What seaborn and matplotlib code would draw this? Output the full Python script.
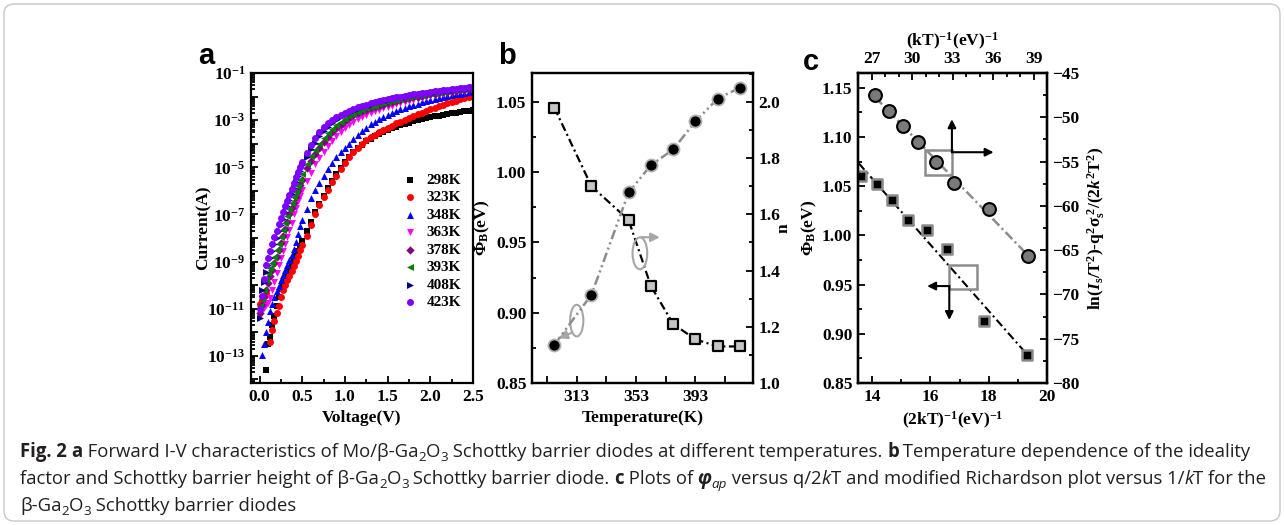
import numpy as np
import pandas as pd
import matplotlib
matplotlib.use("Agg")
import matplotlib.pyplot as plt
import seaborn as sns
from matplotlib import ticker, font_manager
from matplotlib.patches import Ellipse, Rectangle, FancyBboxPatch
from matplotlib.transforms import IdentityTransform

nan = np.nan

# ---------------- Panel a : forward I-V (log10 of current in A) ----------------
voltage_low = [0.000, 0.025, 0.050, 0.075, 0.100, 0.125, 0.150, 0.175, 0.200, 0.225,
               0.250, 0.275, 0.300, 0.325, 0.350, 0.375, 0.400, 0.425, 0.450, 0.475, 0.500]
voltage_high = [0.55, 0.60, 0.65, 0.70, 0.75, 0.80, 0.85, 0.90, 0.95, 1.00,
                1.05, 1.10, 1.15, 1.20, 1.25, 1.30, 1.35, 1.40, 1.45, 1.50,
                1.55, 1.60, 1.65, 1.70, 1.75, 1.80, 1.85, 1.90, 1.95, 2.00,
                2.05, 2.10, 2.15, 2.20, 2.25, 2.30, 2.35, 2.40, 2.45, 2.50]

temperature_labels = ["298K", "323K", "348K", "363K", "378K", "393K", "408K", "423K"]

logI_298K = [nan, nan, nan, -13.6, -12.5, -12.2, -11.7, -11.3, -10.9, -10.5,
             -10.15, -9.95, -9.75, -9.55, -9.35, -9.15, -8.95, -8.75, -8.55, -8.33, -8.12,
             -7.72, -7.30, -6.90, -6.55, -6.20, -5.88, -5.57, -5.29, -5.03, -4.79,
             -4.57, -4.37, -4.19, -4.04, -3.90, -3.78, -3.67, -3.57, -3.49, -3.41,
             -3.34, -3.27, -3.21, -3.15, -3.10, -3.05, -3.00, -2.96, -2.92, -2.88,
             -2.84, -2.81, -2.77, -2.74, -2.71, -2.68, -2.65, -2.62, -2.60, -2.57]
logI_323K = [-10.8, -10.65, -10.45, -10.35, nan, -12.4, -11.9, -11.5, -11.2, -10.9,
             -10.5, -10.2, -10.0, -9.8, -9.6, -9.4, -9.18, -8.97, -8.75, -8.52, -8.30,
             -7.90, -7.45, -7.00, -6.62, -6.26, -5.95, -5.63, -5.35, -5.08, -4.82,
             -4.58, -4.37, -4.18, -4.00, -3.86, -3.73, -3.61, -3.50, -3.41, -3.32,
             -3.23, -3.14, -3.06, -2.98, -2.90, -2.82, -2.75, -2.68, -2.60, -2.53,
             -2.47, -2.41, -2.35, -2.29, -2.23, -2.17, -2.11, -2.06, -2.00, -1.95]
logI_348K = [nan, -12.95, -12.50, -12.00, -11.55, -11.10, -10.80, -10.50, -10.25, -10.05,
             -9.80, -9.57, -9.35, -9.14, -8.93, -8.72, -8.45, -8.15, -7.83, -7.50, -7.25,
             -6.75, -6.32, -5.98, -5.65, -5.35, -5.06, -4.80, -4.56, -4.36, -4.17,
             -4.00, -3.82, -3.64, -3.47, -3.32, -3.18, -3.06, -2.95, -2.86, -2.77,
             -2.68, -2.60, -2.53, -2.47, -2.41, -2.35, -2.30, -2.25, -2.20, -2.15,
             -2.10, -2.05, -2.01, -1.97, -1.94, -1.90, -1.87, -1.84, -1.81, -1.78]
logI_363K = [-11.30, -11.05, -10.95, -10.85, -10.75, -10.55, -10.20, -9.85, -9.50, -9.15,
             -8.85, -8.55, -8.25, -7.95, -7.65, -7.35, -7.00, -6.72, -6.45, -6.20, -5.96,
             -5.60, -5.23, -4.88, -4.60, -4.33, -4.09, -3.87, -3.67, -3.50, -3.34,
             -3.20, -3.07, -2.96, -2.86, -2.77, -2.69, -2.62, -2.55, -2.49, -2.43,
             -2.38, -2.33, -2.28, -2.23, -2.19, -2.14, -2.10, -2.06, -2.02, -1.98,
             -1.95, -1.91, -1.88, -1.85, -1.83, -1.80, -1.78, -1.76, -1.74, -1.72]
logI_378K = [-11.20, -10.85, -10.50, -10.20, -9.90, -9.60, -9.35, -9.08, -8.80, -8.50,
             -8.20, -7.90, -7.60, -7.30, -7.00, -6.74, -6.50, -6.25, -6.00, -5.76, -5.52,
             -5.05, -4.74, -4.45, -4.17, -3.93, -3.71, -3.52, -3.35, -3.19, -3.03,
             -2.90, -2.80, -2.71, -2.63, -2.56, -2.50, -2.44, -2.39, -2.34, -2.29,
             -2.24, -2.20, -2.15, -2.11, -2.07, -2.03, -2.00, -1.97, -1.94, -1.91,
             -1.88, -1.85, -1.82, -1.80, -1.77, -1.75, -1.72, -1.70, -1.68, -1.66]
logI_393K = [-10.90, -10.60, -10.20, -9.80, -9.50, -9.27, -9.07, -8.80, -8.52, -8.24,
             -7.95, -7.65, -7.35, -7.06, -6.79, -6.53, -6.28, -6.03, -5.78, -5.52, -5.28,
             -4.84, -4.52, -4.25, -4.00, -3.77, -3.56, -3.38, -3.21, -3.06, -2.94,
             -2.83, -2.74, -2.65, -2.57, -2.50, -2.44, -2.38, -2.33, -2.28, -2.23,
             -2.18, -2.14, -2.10, -2.06, -2.02, -1.99, -1.95, -1.92, -1.89, -1.86,
             -1.84, -1.81, -1.79, -1.76, -1.74, -1.71, -1.69, -1.67, -1.65, -1.63]
logI_408K = [-11.40, -10.20, -9.85, -9.45, -9.15, -8.83, -8.55, -8.27, -7.99, -7.72,
             -7.45, -7.18, -6.90, -6.64, -6.39, -6.14, -5.89, -5.64, -5.39, -5.15, -4.92,
             -4.55, -4.23, -3.95, -3.69, -3.46, -3.27, -3.12, -2.99, -2.88, -2.78,
             -2.69, -2.60, -2.53, -2.46, -2.40, -2.34, -2.29, -2.24, -2.20, -2.15,
             -2.11, -2.07, -2.03, -2.00, -1.97, -1.94, -1.91, -1.88, -1.86, -1.83,
             -1.81, -1.78, -1.76, -1.73, -1.71, -1.69, -1.67, -1.65, -1.63, -1.61]
logI_423K = [-11.00, -10.45, -9.75, -9.15, -8.85, -8.55, -8.25, -7.97, -7.69, -7.41,
             -7.14, -6.89, -6.65, -6.41, -6.17, -5.93, -5.68, -5.43, -5.20, -4.98, -4.76,
             -4.38, -4.06, -3.77, -3.52, -3.30, -3.12, -2.99, -2.88, -2.78, -2.69,
             -2.61, -2.53, -2.46, -2.40, -2.34, -2.29, -2.24, -2.19, -2.15, -2.11,
             -2.07, -2.03, -2.00, -1.97, -1.94, -1.91, -1.88, -1.85, -1.83, -1.80,
             -1.78, -1.75, -1.73, -1.71, -1.68, -1.66, -1.64, -1.62, -1.60, -1.58]

series_colors = ["#000000", "#FF0000", "#0000FF", "#FF00FF", "#800080", "#008000", "#000080", "#8000FF"]
series_markers = ["s", "o", "^", "v", "D", "<", ">", "o"]

# ---------------- Panel b ----------------
temperature_b = [298, 323, 348, 363, 378, 393, 408, 423]
phi_b = [1.046, 0.990, 0.966, 0.919, 0.892, 0.881, 0.876, 0.876]
n_b = [1.136, 1.314, 1.678, 1.775, 1.831, 1.931, 2.012, 2.051]

# ---------------- Panel c ----------------
inv_2kT = [13.63, 14.17, 14.69, 15.25, 15.89, 16.57, 17.85, 19.33]
phi_ap = [1.060, 1.052, 1.036, 1.016, 1.005, 0.986, 0.913, 0.878]
inv_kT = [27.28, 28.27, 29.33, 30.44, 31.78, 33.13, 35.67, 38.56]
richardson = [-47.45, -49.26, -51.03, -52.84, -55.09, -57.42, -60.36, -65.63]

# ---------------- style ----------------
sns.set_theme(style="ticks")
plt.rcParams.update({
    "font.family": ["Liberation Serif", "DejaVu Serif"],
    "font.weight": "bold",
    "axes.labelweight": "bold",
    "mathtext.fontset": "custom",
    "mathtext.rm": "Liberation Serif:bold",
    "mathtext.it": "Liberation Serif:italic:bold",
    "mathtext.bf": "Liberation Serif:bold",
    "mathtext.default": "rm",
    "axes.linewidth": 1.6,
    "axes.edgecolor": "black",
    "text.color": "black",
    "axes.labelcolor": "black",
    "xtick.color": "black",
    "ytick.color": "black",
    "lines.scale_dashes": False,
})

W, H = 1284.0, 525.0
fig = plt.figure(figsize=(12.84, 5.25), dpi=100)


def add_ax(l, t, r, b):
    return fig.add_axes([l / W, 1 - b / H, (r - l) / W, (b - t) / H])


def style_axis(ax):
    for sp in ax.spines.values():
        sp.set_linewidth(1.6)
    ax.tick_params(which="both", direction="in", width=1.3, labelsize=12.5, pad=4)
    ax.tick_params(which="major", length=5)
    ax.tick_params(which="minor", length=3)


LABEL_FS = 12.5

# ================= Panel a =================
ax_a = add_ax(251, 73, 473, 383)
voltage = np.array(voltage_low + voltage_high)
curves = [logI_298K, logI_323K, logI_348K, logI_363K, logI_378K, logI_393K, logI_408K, logI_423K]
for lab, logI, col, mk in zip(temperature_labels, curves, series_colors, series_markers):
    logI = np.array(logI, dtype=float)
    m = ~np.isnan(logI)
    size = 18 if mk == "D" else 25
    sns.scatterplot(x=voltage[m], y=10 ** logI[m], marker=mk, color=col, s=size,
                    linewidth=0, ax=ax_a, label=lab)
ax_a.set_yscale("log")
ax_a.set_xlim(-0.1, 2.5)
ax_a.set_ylim(10 ** -14.15, 10 ** -1)
ax_a.yaxis.set_major_locator(ticker.LogLocator(base=10, numticks=30))
ax_a.yaxis.set_minor_locator(ticker.LogLocator(base=10, subs=np.arange(2, 10), numticks=30))
ax_a.yaxis.set_major_formatter(ticker.FuncFormatter(
    lambda v, p: (r"$10^{%d}$" % int(round(np.log10(v)))) if int(round(np.log10(v))) % 2 == 1 else ""))
ax_a.yaxis.set_minor_formatter(ticker.NullFormatter())
ax_a.xaxis.set_major_locator(ticker.MultipleLocator(0.5))
ax_a.xaxis.set_minor_locator(ticker.MultipleLocator(0.25))
ax_a.xaxis.set_major_formatter(ticker.FormatStrFormatter("%.1f"))
style_axis(ax_a)
ax_a.tick_params(top=False, right=False)
ax_a.set_xlabel("Voltage(V)", fontsize=LABEL_FS)
ax_a.set_ylabel("Current(A)", fontsize=LABEL_FS)
ax_a.yaxis.set_label_coords(-0.18, 0.5)
leg = ax_a.legend(loc="upper left", bbox_to_anchor=(0.68, 0.677), frameon=False,
                  fontsize=11, handlelength=1.0, handletextpad=0.6, labelspacing=0.25,
                  borderpad=0, borderaxespad=0)

# ================= Panel b =================
ax_b = add_ax(532, 73, 753, 383)
ax_b2 = ax_b.twinx()
sns.lineplot(x=temperature_b, y=phi_b, ax=ax_b, color="black", lw=1.6,
             linestyle=(0, (6, 2.5, 1.5, 2.5)))
sns.scatterplot(x=temperature_b, y=phi_b, ax=ax_b, marker="s", s=60, color="#c4c4c4",
                edgecolor="black", linewidth=1.6, zorder=5)
sns.lineplot(x=temperature_b, y=n_b, ax=ax_b2, color="#8c8c8c", lw=1.8,
             linestyle=(0, (7, 2.5, 1.5, 2.5, 1.5, 2.5)))
sns.scatterplot(x=temperature_b, y=n_b, ax=ax_b2, marker="o", s=75, color="black",
                edgecolor="#b0b0b0", linewidth=1.3, zorder=5)
ax_b.set_xlim(283, 431.7)
ax_b.set_ylim(0.85, 1.0706)
ax_b2.set_ylim(1.0, 2.103)
ax_b.set_xticks([313, 353, 393])
ax_b.set_xticks([293, 333, 373, 413], minor=True)
ax_b.yaxis.set_major_locator(ticker.MultipleLocator(0.05))
ax_b.yaxis.set_minor_locator(ticker.MultipleLocator(0.025))
ax_b.yaxis.set_major_formatter(ticker.FormatStrFormatter("%.2f"))
ax_b2.yaxis.set_major_locator(ticker.MultipleLocator(0.2))
ax_b2.yaxis.set_minor_locator(ticker.MultipleLocator(0.1))
ax_b2.yaxis.set_major_formatter(ticker.FormatStrFormatter("%.1f"))
style_axis(ax_b)
style_axis(ax_b2)
ax_b.tick_params(axis="x", which="minor", length=5)
ax_b.tick_params(top=False, right=False, which="both")
ax_b2.tick_params(top=False, left=False, which="both")
ax_b.set_xlabel("Temperature(K)", fontsize=LABEL_FS)
ax_b.set_ylabel(r"$\Phi_\mathrm{B}$(eV)", fontsize=LABEL_FS)
ax_b.yaxis.set_label_coords(-0.18, 0.5)
ax_b2.set_ylabel("n", fontsize=LABEL_FS)
ax_b2.yaxis.set_label_coords(1.10, 0.5)
GRAY = "#a6a6a6"
ax_b.add_patch(Ellipse((313.1, 0.8944), 8.9, 0.0225, fill=False, ec=GRAY, lw=1.5, zorder=6))
ax_b.add_patch(Ellipse((355.6, 0.9423), 9.9, 0.0227, fill=False, ec=GRAY, lw=1.5, zorder=6))
arrow_gray = dict(arrowstyle="-|>", color=GRAY, lw=1.6, mutation_scale=13, shrinkA=0, shrinkB=0)
ax_b.annotate("", xy=(300.8, 0.8818), xytext=(310.0, 0.8858), arrowprops=arrow_gray, zorder=6)
ax_b.annotate("", xy=(369.0, 0.9537), xytext=(356.5, 0.9537), arrowprops=arrow_gray, zorder=6)

# ================= Panel c =================
ax_c = add_ax(858, 73, 1047, 383)
ax_c2 = ax_c.twinx()
ax_c3 = ax_c2.twiny()
fit_sq = np.polyfit(inv_2kT, phi_ap, 1)
xs_sq = np.array([13.55, max(inv_2kT)])
sns.lineplot(x=xs_sq, y=np.polyval(fit_sq, xs_sq), ax=ax_c, color="black", lw=1.5,
             linestyle=(0, (6, 2.5, 1.5, 2.5)))
sns.scatterplot(x=inv_2kT, y=phi_ap, ax=ax_c, marker="s", s=45, color="black",
                edgecolor="#8a8a8a", linewidth=1.8, zorder=5)
fit_ci = np.polyfit(inv_kT, richardson, 1)
xs_ci = np.array([min(inv_kT), max(inv_kT)])
sns.lineplot(x=xs_ci, y=np.polyval(fit_ci, xs_ci), ax=ax_c3, color="#8c8c8c", lw=1.8,
             linestyle=(0, (7, 2.5, 1.5, 2.5)))
sns.scatterplot(x=inv_kT, y=richardson, ax=ax_c3, marker="o", s=85, color="#7a7a7a",
                edgecolor="black", linewidth=1.5, zorder=5)
ax_c.set_xlim(13.52, 20)
ax_c.set_ylim(0.85, 1.165)
ax_c2.set_ylim(-80, -45)
ax_c3.set_xlim(26, 40)
ax_c.xaxis.set_major_locator(ticker.MultipleLocator(2))
ax_c.xaxis.set_minor_locator(ticker.MultipleLocator(1))
ax_c.yaxis.set_major_locator(ticker.MultipleLocator(0.05))
ax_c.yaxis.set_minor_locator(ticker.MultipleLocator(0.025))
ax_c.yaxis.set_major_formatter(ticker.FormatStrFormatter("%.2f"))
ax_c2.yaxis.set_major_locator(ticker.MultipleLocator(5))
ax_c2.yaxis.set_minor_locator(ticker.MultipleLocator(2.5))
ax_c3.xaxis.set_major_locator(ticker.FixedLocator([27, 30, 33, 36, 39]))
ax_c3.xaxis.set_minor_locator(ticker.MultipleLocator(1))
for a in (ax_c, ax_c2, ax_c3):
    style_axis(a)
ax_c.tick_params(top=False, right=False, which="both")
ax_c2.tick_params(top=False, left=False, bottom=False, which="both")
ax_c3.tick_params(bottom=False, which="both")
ax_c.set_xlabel(r"(2kT)$^{-1}$(eV)$^{-1}$", fontsize=LABEL_FS)
ax_c.set_ylabel(r"$\Phi_\mathrm{B}$(eV)", fontsize=LABEL_FS)
ax_c.yaxis.set_label_coords(-0.205, 0.5)
ax_c3.set_xlabel(r"(kT)$^{-1}$(eV)$^{-1}$", fontsize=LABEL_FS)
ax_c2.set_ylabel(r"ln($\mathit{I}_{s}$/T$^{2}$)-q$^{2}\sigma_{s}^{\ 2}$/(2$\mathit{k}^{2}$T$^{2}$)",
                 fontsize=LABEL_FS)
ax_c2.yaxis.set_label_coords(1.20, 0.5)
BOXG = "#8c8c8c"
ax_c.add_patch(Rectangle((15.80, 1.0618), 0.94, 0.0246, fill=False, ec=BOXG, lw=1.8, zorder=6))
ax_c.add_patch(Rectangle((16.65, 0.9460), 0.95, 0.0240, fill=False, ec=BOXG, lw=1.8, zorder=6))
arrow_k = dict(arrowstyle="-|>", color="black", lw=1.5, mutation_scale=12, shrinkA=0, shrinkB=0)
ax_c.annotate("", xy=(16.74, 1.118), xytext=(16.74, 1.0845), arrowprops=arrow_k, zorder=7)
ax_c.annotate("", xy=(18.17, 1.0845), xytext=(16.74, 1.0845), arrowprops=arrow_k, zorder=7)
ax_c.annotate("", xy=(15.89, 0.9485), xytext=(16.65, 0.9485), arrowprops=arrow_k, zorder=7)
ax_c.annotate("", xy=(16.65, 0.914), xytext=(16.65, 0.9485), arrowprops=arrow_k, zorder=7)

# ================= panel letters =================
for letter, (px, py) in zip("abc", [(206, 56), (507, 56), (811, 62)]):
    fig.text(px / W, 1 - py / H, letter, fontsize=21, fontweight="bold",
             family=["Liberation Sans", "DejaVu Sans"], ha="center", va="center")

# ================= frame =================
fig.add_artist(FancyBboxPatch((4, 4), 1276, 517, boxstyle="round,pad=0,rounding_size=10",
                              transform=IdentityTransform(), fill=False, ec="#c8c8c8", lw=1.0))

# ================= caption =================
def find_family(cands):
    for c in cands:
        try:
            font_manager.findfont(font_manager.FontProperties(family=c), fallback_to_default=False)
            return c
        except Exception:
            continue
    return "DejaVu Sans"


cap_family = find_family(["Liberation Sans Narrow", "Open Sans", "Noto Sans"])
renderer = fig.canvas.get_renderer()

caption_lines = [
    [("Fig. 2 ", "b"), ("a", "b"), (" Forward I-V characteristics of Mo/β-Ga", "n"), ("2", "s"), ("O", "n"),
     ("3", "s"), (" Schottky barrier diodes at different temperatures. ", "n"), ("b", "b"),
     (" Temperature dependence of the ideality", "n")],
    [("factor and Schottky barrier height of β-Ga", "n"), ("2", "s"), ("O", "n"), ("3", "s"),
     (" Schottky barrier diode. ", "n"), ("c", "b"), (" Plots of ", "n"), ("φ", "bi"), ("ap", "si"),
     (" versus q/2", "n"), ("k", "i"), ("T and modified Richardson plot versus 1/", "n"), ("k", "i"),
     ("T for the", "n")],
    [("β-Ga", "n"), ("2", "s"), ("O", "n"), ("3", "s"), (" Schottky barrier diodes", "n")],
]


def fprops(style, fs):
    fp = font_manager.FontProperties(family=cap_family, size=fs * (0.72 if "s" in style else 1.0),
                                     weight="bold" if "b" in style else "normal",
                                     style="italic" if "i" in style else "normal")
    return fp


def text_width(txt, fp):
    w1, _, _ = renderer.get_text_width_height_descent("x" + txt + "x", fp, ismath=False)
    w0, _, _ = renderer.get_text_width_height_descent("xx", fp, ismath=False)
    return w1 - w0


def line_width(segs, fs):
    return sum(text_width(t, fprops(s, fs)) for t, s in segs)


fs_cap = 12.0
fs_cap = fs_cap * 1228.0 / line_width(caption_lines[0], fs_cap)
fs_cap = min(fs_cap, 14.0)
for segs, ybase in zip(caption_lines, [68, 41, 14]):
    x = 20.0
    for txt, st in segs:
        fp = fprops(st, fs_cap)
        yy = ybase - (fs_cap * 100 / 72 * 0.2 if "s" in st else 0)
        fig.text(x, yy, txt, fontproperties=fp, color="#231f20", ha="left", va="baseline",
                 transform=IdentityTransform())
        x += text_width(txt, fp)

fig.savefig("out.png", dpi=100)
